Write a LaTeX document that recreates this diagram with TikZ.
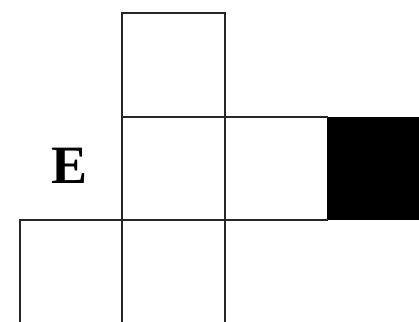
\documentclass[tikz,border=0pt]{standalone}
\usepackage{fontspec}
\setmainfont{Liberation Serif}
\tikzset{gridline/.style={draw=black!85, line width=2pt, line cap=rect},
  label/.style={font=\bfseries\fontsize{54}{54}\selectfont, inner sep=0pt}}
\begin{document}
\begin{tikzpicture}[x=1pt,y=-1pt]
\useasboundingbox (0,0) rectangle (419,321);
% black cell
\fill[black] (327,117) rectangle (421,219.5);
% top cell
\draw[gridline] (122,321) -- (122,13) -- (225,13) -- (225,321);
% row lines
\draw[gridline] (122,117) -- (327,117);
\draw[gridline] (20,321) -- (20,219.5) -- (327,219.5);
\node[label] (E) at (69.5,165.5) {E};
\end{tikzpicture}
\end{document}
